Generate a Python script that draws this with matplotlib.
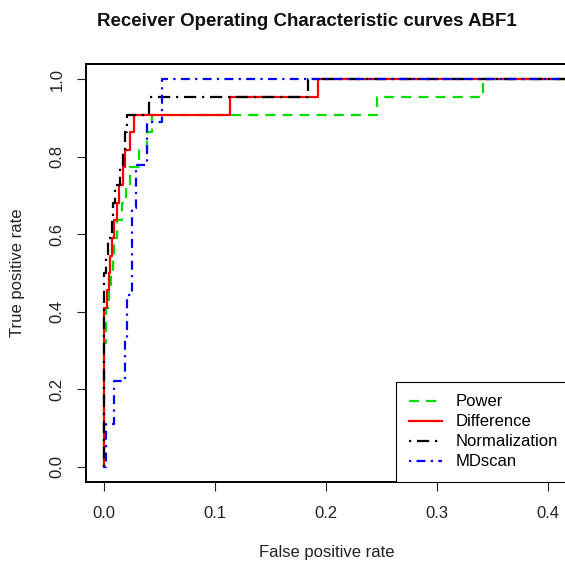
import matplotlib
matplotlib.use("Agg")
import matplotlib.pyplot as plt

plt.rcParams['font.family'] = ['Liberation Sans', 'DejaVu Sans']

# ROC step points (fpr, tpr) for each method
power_fpr = [0.0, 0.0, 0.002, 0.0045, 0.0063, 0.0084, 0.0095, 0.012, 0.016, 0.020, 0.024, 0.032, 0.0385, 0.043, 0.2457, 0.3417, 0.45]
power_tpr = [0.0, 0.318, 0.409, 0.455, 0.500, 0.545, 0.591, 0.636, 0.682, 0.727, 0.773, 0.818, 0.864, 0.909, 0.955, 1.0, 1.0]

diff_fpr = [0.0, 0.0, 0.003, 0.0045, 0.006, 0.0075, 0.009, 0.0115, 0.0135, 0.0175, 0.0195, 0.0234, 0.0273, 0.1135, 0.193, 0.45]
diff_tpr = [0.0, 0.409, 0.455, 0.500, 0.545, 0.591, 0.636, 0.682, 0.727, 0.773, 0.818, 0.864, 0.909, 0.955, 1.0, 1.0]

norm_fpr = [0.0, 0.0, 0.002, 0.004, 0.007, 0.008, 0.010, 0.0145, 0.017, 0.019, 0.021, 0.041, 0.1835, 0.45]
norm_tpr = [0.0, 0.500, 0.545, 0.591, 0.636, 0.682, 0.727, 0.773, 0.818, 0.864, 0.909, 0.955, 1.0, 1.0]

md_fpr = [0.0, 0.0024, 0.009, 0.0195, 0.0213, 0.025, 0.0255, 0.0294, 0.0385, 0.052, 0.45]
md_tpr = [0.0, 0.111, 0.222, 0.333, 0.444, 0.556, 0.667, 0.778, 0.889, 1.0, 1.0]

labels = ["Power", "Difference", "Normalization", "MDscan"]
colors = ["#00DD00", "#FF0000", "#000000", "#0000FF"]

W, H = 565, 562
fig = plt.figure(figsize=(W / 100, H / 100), dpi=100)
ax = fig.add_axes([86 / W, (H - 482) / H, (566 - 86) / W, (482 - 64) / H])

lw = 1.6
ax.plot(power_fpr, power_tpr, drawstyle='steps-post', color=colors[0], lw=lw,
        linestyle=(0, (4.5, 3.2)), label=labels[0])
ax.plot(diff_fpr, diff_tpr, drawstyle='steps-post', color=colors[1], lw=lw,
        linestyle='-', label=labels[1])
ax.plot(norm_fpr, norm_tpr, drawstyle='steps-post', color=colors[2], lw=lw,
        linestyle=(0, (1, 2.6, 5.5, 2.6)), label=labels[2])
ax.plot(md_fpr, md_tpr, drawstyle='steps-post', color=colors[3], lw=lw,
        linestyle=(0, (1, 2.4, 4.0, 2.4)), label=labels[3])

ax.set_xlim(-0.016, 0.416)
ax.set_ylim(-0.04, 1.04)
ax.set_xticks([0.0, 0.1, 0.2, 0.3, 0.4])
ax.set_xticklabels(["0.0", "0.1", "0.2", "0.3", "0.4"])
ax.set_yticks([0.0, 0.2, 0.4, 0.6, 0.8, 1.0])
ax.set_yticklabels(["0.0", "0.2", "0.4", "0.6", "0.8", "1.0"], rotation=90, va='center')
ax.tick_params(axis='both', direction='out', length=6.5, width=0.8, labelsize=12, colors='#222222')
ax.tick_params(axis='x', pad=11)
ax.tick_params(axis='y', pad=9)
for s in ax.spines.values():
    s.set_linewidth(1.4)
    s.set_color('black')

fig.text(327 / W, 1 - 552 / H, "False positive rate", ha='center', va='center', fontsize=12, color='#222222')
fig.text(18 / W, 1 - 273 / H, "True positive rate", ha='center', va='center', fontsize=12,
         rotation=90, color='#222222')
fig.text(307 / W, 1 - 22 / H, "Receiver Operating Characteristic curves ABF1", ha='center', va='center',
         fontsize=13.5, fontweight='bold', color='#111111')

leg = ax.legend(loc='lower right', bbox_to_anchor=(1.0104, 0.0), borderaxespad=0, fancybox=False,
                edgecolor='black', fontsize=12, handlelength=2.0, handletextpad=0.85,
                labelspacing=0.3, borderpad=0.75, framealpha=1)
leg.get_frame().set_linewidth(0.8)

fig.savefig("out.png", dpi=100)
